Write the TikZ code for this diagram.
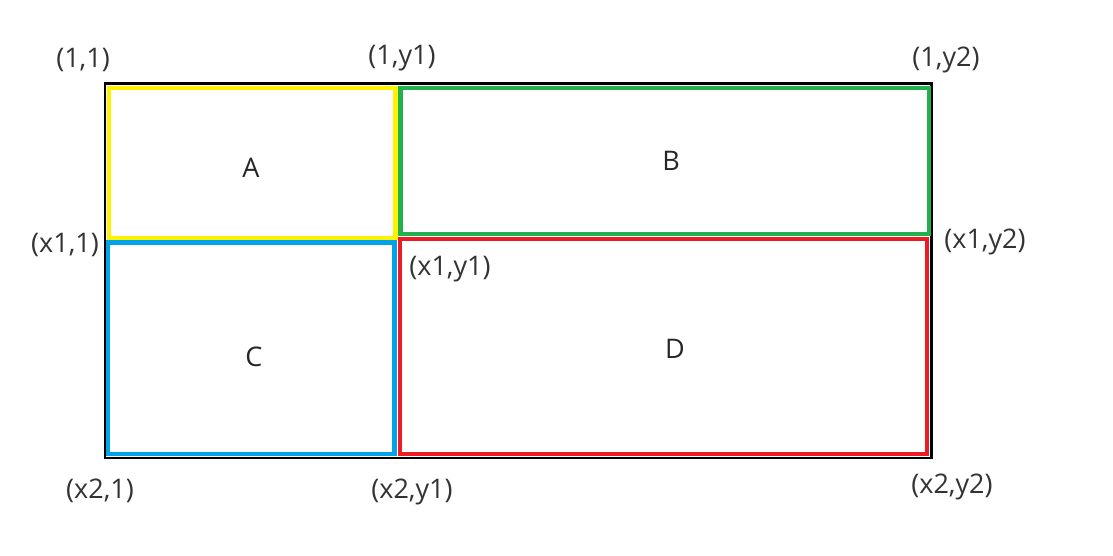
\documentclass[tikz,border=0pt]{standalone}
\usepackage{fontspec}
\setmainfont{Open Sans}
\usepackage{tikz}

\definecolor{paintyellow}{RGB}{255,242,0}
\definecolor{paintgreen}{RGB}{34,177,76}
\definecolor{paintblue}{RGB}{0,162,232}
\definecolor{paintred}{RGB}{237,28,36}

\tikzset{
  corner/.style={font=\fontsize{13.5}{16}\selectfont, text=black!80, inner sep=0pt},
  region/.style={font=\fontsize{13.5}{16}\selectfont, text=black!85, inner sep=0pt},
  part/.style={line width=2.2pt},
}

\begin{document}
\begin{tikzpicture}[x=0.5pt,y=-0.5pt]
\useasboundingbox (0,0) rectangle (1113,556);

% outer frame
\draw[line width=1.3pt] (105,83.5) rectangle (931.5,458);

% the four parts
\draw[part, paintyellow] (109,88) rectangle (395.5,238);
\draw[part, paintgreen] (400.5,88) rectangle (929,234);
\draw[part, paintblue] (108,242.5) rectangle (394.5,454);
\draw[part, paintred] (400,239) rectangle (927,454);

% part names
\node[region] (A) at (251,168) {A};
\node[region] (B) at (671,161) {B};
\node[region] (C) at (254,357) {C};
\node[region] (D) at (675,349) {D};

% corner labels
\node[corner] (c11) at (83,60) {(1,1)};
\node[corner] (c1y1) at (402,58) {(1,y1)};
\node[corner] (c1y2) at (946,60) {(1,y2)};
\node[corner] (cx11) at (65,245) {(x1,1)};
\node[corner] (cx1y1) at (450,269) {(x1,y1)};
\node[corner] (cx1y2) at (985,242) {(x1,y2)};
\node[corner] (cx21) at (100,491) {(x2,1)};
\node[corner] (cx2y1) at (412,492) {(x2,y1)};
\node[corner] (cx2y2) at (952,487) {(x2,y2)};

\end{tikzpicture}
\end{document}
